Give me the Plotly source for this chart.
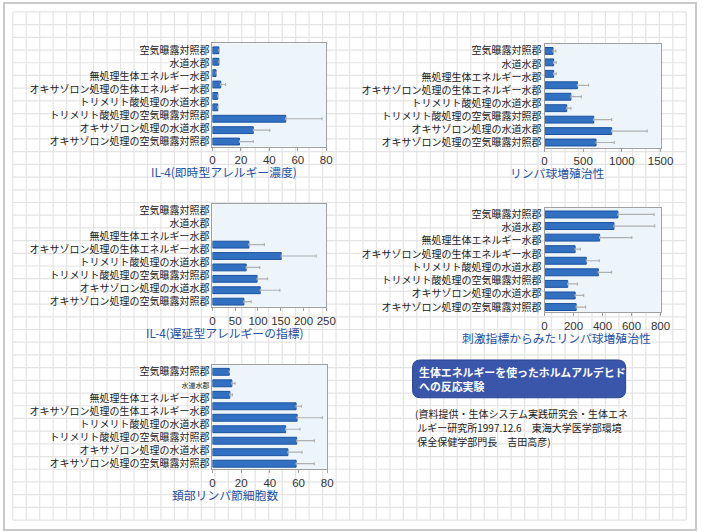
import plotly.graph_objects as go
import numpy as np

W, H = 710, 532

labels = ["空気曝露対照郡", "水道水郡", "無処理生体エネルギー水郡",
          "オキサゾロン処理の生体エネルギー水郡", "トリメリト酸処理の水道水郡",
          "トリメリト酸処理の空気曝露対照郡", "オキサゾロン処理の水道水郡",
          "オキサゾロン処理の空気曝露対照郡"]
labels5 = ["空気曝露対照郡", '<span style="font-size:7px">水道水郡</span>', "無処理生体エネルギー水郡",
           "オキサゾロン処理の生体エネルギー水郡", "トリメリト酸処理の水道水郡",
           "トリメリト酸処理の空気曝露対照郡", "オキサゾロン処理の水道水郡",
           "オキサゾロン処理の空気曝露対照郡"]

# nine bars per chart (top to bottom), upper end of error bar (None = no error bar)
il4_immediate = [4.5, 4.5, 2.5, 5.8, 3.7, 3.7, 51.5, 28.7, 19.0]
il4_immediate_hi = [None, None, None, 9.2, None, None, 77.0, 40.3, 28.7]

lymph_prolif = [110, 118, 118, 426, 341, 287, 636, 868, 666]
lymph_prolif_hi = [147, 152, 152, 569, 476, 341, 868, 1327, 902]

il4_delayed = [None, None, None, 80, 151, 74, 98, 105, 69]
il4_delayed_hi = [None, None, None, 114, 228, 104, 121, 148, 85]

stim_index = [506, 479, 380, 211, 288, 371, 160, 211, 218]
stim_index_hi = [755, 760, 602, 247, 377, 463, 227, 270, 283]

neck_cells = [11.7, 13.5, 12.1, 58.3, 59.0, 51.0, 58.7, 52.6, 58.3]
neck_cells_hi = [None, 15.8, 13.9, 62.0, 76.6, 61.0, 71.0, 62.4, 71.0]

titles = ["IL-4(即時型アレルギー濃度)", "リンパ球増殖治性", "IL-4(遅延型アレルギーの指標)",
          "刺激指標からみたリンパ球増殖治性", "頚部リンパ節細胞数"]
ranges = [80, 1500, 250, 800, 80]
xticks = [[0, 20, 40, 60, 80], [0, 500, 1000, 1500], [0, 50, 100, 150, 200, 250],
          [0, 200, 400, 600, 800], [0, 20, 40, 60, 80]]

box_title = "生体エネルギーを使ったホルムアルデヒド<br>への反応実験"
note_lines = ["(資料提供・生体システム実践研究会・生体エネ",
              " ルギー研究所1997.12.6　東海大学医学部環境",
              " 保全保健学部門長　吉田高彦)"]

series = [(il4_immediate, il4_immediate_hi), (lymph_prolif, lymph_prolif_hi),
          (il4_delayed, il4_delayed_hi), (stim_index, stim_index_hi),
          (neck_cells, neck_cells_hi)]

# plot areas in pixels: (x0, x1, y0, y1)
boxes = [(214.3, 330.7, 41.7, 145.5), (554, 672.7, 42.3, 146.5),
         (214.3, 330.7, 202.7, 306.5), (554, 672.7, 206.7, 312),
         (214.3, 331.7, 365, 469.5)]
title_pos = [(226, 170.5), (567, 171.5), (227, 332.5), (566, 337), (227, 495.5)]

def px(x):
    return x / W

def py(y):
    return 1 - y / H

FONT = "Noto Sans CJK JP"
NUMFONT = "Liberation Sans"
fig = go.Figure()
shapes = []

# background: outer border + graph-paper grid
shapes.append(dict(type="rect", xref="paper", yref="paper", x0=px(1), x1=px(709), y0=py(1), y1=py(531),
                   line=dict(color="#c9c9c9", width=2), fillcolor="white", layer="below"))
for gx in np.linspace(10, 699, 51):
    shapes.append(dict(type="line", xref="paper", yref="paper", x0=px(gx), x1=px(gx), y0=py(10), y1=py(521),
                       line=dict(color="#e4e4e4", width=1.2), layer="below"))
for gy in np.linspace(10, 521, 41):
    shapes.append(dict(type="line", xref="paper", yref="paper", x0=px(10), x1=px(699), y0=py(gy), y1=py(gy),
                       line=dict(color="#e4e4e4", width=1.2), layer="below"))

ypos = list(range(8, -1, -1))
tickpos = [8 - i * 8 / 7 for i in range(8)]

for i, ((vals, hi), (x0, x1, y0, y1)) in enumerate(zip(series, boxes)):
    n = i + 1
    plus = [(h - v) if (h is not None and v is not None) else None for h, v in zip(hi, vals)]
    fig.add_trace(go.Bar(
        x=vals, y=ypos, orientation="h", width=0.6,
        marker=dict(color="#3270c2", line=dict(color="#1b529f", width=1)),
        error_x=dict(type="data", array=plus, symmetric=False,
                     arrayminus=[0] * 9, color="#b0b0b0", thickness=1.2, width=1.5),
        xaxis=f"x{n}", yaxis=f"y{n}", showlegend=False, hoverinfo="skip"))
    shapes.append(dict(type="rect", xref="paper", yref="paper", x0=px(x0), x1=px(x1), y0=py(y1), y1=py(y0),
                       line=dict(width=0), fillcolor="#eef5fa", layer="below"))
    fig.layout[f"xaxis{n}"] = dict(
        domain=[px(x0), px(x1)], range=[0, ranges[i]], tickvals=xticks[i], anchor=f"y{n}",
        showline=True, linecolor="#a0a0a0", linewidth=1, mirror=True, ticks="outside", ticklen=3,
        tickcolor="#a0a0a0", showgrid=False, zeroline=False,
        tickfont=dict(family=NUMFONT, size=11.5, color="#333"))
    fig.layout[f"yaxis{n}"] = dict(
        domain=[py(y1), py(y0)], range=[-0.45, 8.6], tickvals=tickpos,
        ticktext=labels5 if n == 5 else labels, anchor=f"x{n}",
        showline=True, linecolor="#a0a0a0", linewidth=1, mirror=True, ticks="", showgrid=False,
        zeroline=False, tickfont=dict(family=FONT, size=10, color="#222"))

annotations = []
for t, (tx, ty) in zip(titles, title_pos):
    annotations.append(dict(text=t, xref="paper", yref="paper", x=px(tx), y=py(ty), showarrow=False,
                            xanchor="center", yanchor="middle",
                            font=dict(family=FONT, size=11.8, color="#2550a4")))

# rounded blue box
bx0, bx1, by0, by1, r = 419, 637, 360, 398, 8
path = (f"M {px(bx0 + r)},{py(by0)} L {px(bx1 - r)},{py(by0)} Q {px(bx1)},{py(by0)} {px(bx1)},{py(by0 + r)} "
        f"L {px(bx1)},{py(by1 - r)} Q {px(bx1)},{py(by1)} {px(bx1 - r)},{py(by1)} "
        f"L {px(bx0 + r)},{py(by1)} Q {px(bx0)},{py(by1)} {px(bx0)},{py(by1 - r)} "
        f"L {px(bx0)},{py(by0 + r)} Q {px(bx0)},{py(by0)} {px(bx0 + r)},{py(by0)} Z")
shapes.append(dict(type="path", xref="paper", yref="paper", path=path,
                   fillcolor="#3a56ab", line=dict(color="#2b4290", width=1)))
annotations.append(dict(text="<b>" + box_title + "</b>", xref="paper", yref="paper", x=px(424), y=py(379.5),
                        xanchor="left", yanchor="middle", align="left", showarrow=False,
                        font=dict(family=FONT, size=10.9, color="white")))
for k, line in enumerate(note_lines):
    annotations.append(dict(text=line, xref="paper", yref="paper", x=px(419), y=py(414 + 14 * k),
                            xanchor="left", yanchor="middle", align="left", showarrow=False,
                            font=dict(family=FONT, size=10, color="#222")))

fig.update_layout(width=W, height=H, margin=dict(l=0, r=0, t=0, b=0),
                  paper_bgcolor="white", plot_bgcolor="rgba(0,0,0,0)",
                  shapes=shapes, annotations=annotations, bargap=0.4)

fig.write_html(
    "out.html",
    config={"displayModeBar": False, "staticPlot": True},
    post_script=("document.documentElement.style.overflow='hidden';"
                 "document.body.style.margin='0';document.body.style.overflow='hidden';"))
